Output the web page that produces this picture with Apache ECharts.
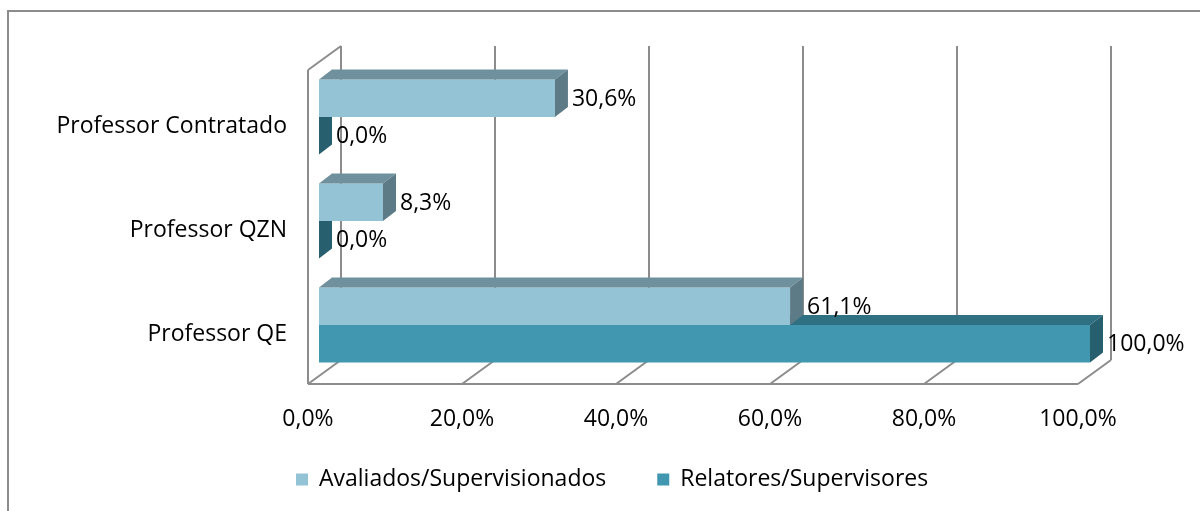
<!DOCTYPE html>
<html>
<head>
<meta charset="utf-8">
<script src="https://cdn.jsdelivr.net/npm/echarts@6/dist/echarts.min.js"></script>
<style>
  html, body { margin: 0; padding: 0; background: #fff; }
  #chart { width: 1200px; height: 511px; }
</style>
</head>
<body>
<div id="chart"></div>
<script>
let categories = ['Professor QE', 'Professor QZN', 'Professor Contratado']; // de baixo para cima
let avaliados = [61.1, 8.3, 30.6];
let relatores = [100.0, 0.0, 0.0];
let xTicks = [0, 20, 40, 60, 80, 100];
let seriesNames = ['Avaliados/Supervisionados', 'Relatores/Supervisores'];

let font = '"Open Sans", sans-serif';
let depth = [-33, 24]; // parede do fundo -> frente
let barDepth = [13, -10]; // profundidade da barra

// cores: frente, topo, lado
let lightColors = ['#93c3d5', '#6f919e', '#5d7b87'];
let darkColors = ['#4197b0', '#2f7182', '#275f6e'];

function pct(v) {
    return v.toFixed(1).replace('.', ',') + '%';
}

function barRender(upper, colors) {
    return function (params, api) {
        let v = api.value(0), c = api.value(1);
        let start = api.coord([0, c]);
        let end = api.coord([v, c]);
        let h = api.size([0, 1])[1] * 0.36;
        let y0 = upper ? start[1] - h : start[1];
        let y1 = y0 + h;
        let x0 = start[0], x1 = end[0];
        let dx = barDepth[0], dy = barDepth[1];
        let children = [];
        if (x1 > x0) {
            children.push({ type: 'rect', shape: { x: x0, y: y0, width: x1 - x0, height: h }, style: { fill: colors[0] } });
            children.push({ type: 'polygon', shape: { points: [[x0, y0], [x0 + dx, y0 + dy], [x1 + dx, y0 + dy], [x1, y0]] }, style: { fill: colors[1] } });
        }
        children.push({ type: 'polygon', shape: { points: [[x1, y0], [x1 + dx, y0 + dy], [x1 + dx, y1 + dy], [x1, y1]] }, style: { fill: colors[2] } });
        children.push({
            type: 'text',
            x: x1 + dx + 4, y: (y0 + y1) / 2 + 1,
            style: { text: pct(v), fill: '#000', font: '23px ' + font, verticalAlign: 'middle', align: 'left' }
        });
        return { type: 'group', children: children };
    };
}

function frameRender(params, api) {
    let v = api.value(0);
    let b = api.coord([v, 0]);
    let lineStyle = { stroke: '#8c8c8c', lineWidth: 2 };
    let children = [{ type: 'line', shape: { x1: b[0], y1: b[1], x2: b[0] + depth[0], y2: b[1] + depth[1] }, style: lineStyle }];
    if (params.dataIndex === 0) {
        let t = api.coord([v, 1]);
        children.push({ type: 'line', shape: { x1: t[0], y1: t[1], x2: t[0] + depth[0], y2: t[1] + depth[1] }, style: lineStyle });
        children.push({ type: 'line', shape: { x1: t[0] + depth[0], y1: t[1] + depth[1], x2: b[0] + depth[0], y2: b[1] + depth[1] }, style: lineStyle });
        let e = api.coord([xTicks[xTicks.length - 1], 0]);
        children.push({ type: 'line', shape: { x1: b[0] + depth[0], y1: b[1] + depth[1], x2: e[0] + depth[0], y2: e[1] + depth[1] }, style: lineStyle });
    }
    return { type: 'group', children: children };
}

let chart = echarts.init(document.getElementById('chart'));
let option = {
    animation: false,
    textStyle: { fontFamily: font },
    graphic: [{
        type: 'rect', shape: { x: 8, y: 11, width: 1300, height: 600 },
        style: { fill: 'none', stroke: '#8c8c8c', lineWidth: 2 }, z: -10
    }],
    legend: {
        left: 291, top: 463,
        itemWidth: 12, itemHeight: 12, itemGap: 51,
        icon: 'rect',
        data: seriesNames,
        textStyle: { fontSize: 23, color: '#000', fontFamily: font, padding: [0, 0, 0, 6] }
    },
    grid: [
        { left: 319, right: 110, top: 65, bottom: 134 },   // plano das barras
        { left: 341, right: 89, top: 46, bottom: 151 },    // parede do fundo
        { left: 308, right: 122, top: 70, bottom: 127 }    // frente do chão
    ],
    xAxis: [
        { gridIndex: 0, type: 'value', min: 0, max: 100, show: false },
        {
            gridIndex: 1, type: 'value', min: 0, max: 100, interval: 20,
            axisLine: { show: false }, axisTick: { show: false }, axisLabel: { show: false },
            splitLine: { show: true, lineStyle: { color: '#8c8c8c', width: 2 } }
        },
        {
            gridIndex: 2, type: 'value', min: 0, max: 100, interval: 20,
            axisLine: { show: false }, axisTick: { show: false }, splitLine: { show: false },
            axisLabel: { margin: 24, fontSize: 23, color: '#000', fontFamily: font, formatter: v => pct(v) }
        }
    ],
    yAxis: [
        {
            gridIndex: 0, type: 'category', data: categories,
            axisLine: { show: false }, axisTick: { show: false },
            axisLabel: {
                margin: 32, color: '#000',
                formatter: v => '{c|' + v + '}',
                rich: { c: { fontSize: 23, color: '#000', fontFamily: font, padding: [18, 0, 0, 0] } }
            }
        },
        { gridIndex: 1, type: 'value', min: 0, max: 1, show: false },
        { gridIndex: 2, type: 'value', min: 0, max: 1, show: false }
    ],
    series: [
        {
            type: 'custom', name: 'frame', xAxisIndex: 1, yAxisIndex: 1, z: 1,
            data: xTicks.map(v => [v]), renderItem: frameRender, silent: true
        },
        {
            type: 'custom', name: seriesNames[1], xAxisIndex: 0, yAxisIndex: 0, z: 3,
            itemStyle: { color: darkColors[0] },
            data: relatores.map((v, i) => [v, i]), renderItem: barRender(false, darkColors)
        },
        {
            type: 'custom', name: seriesNames[0], xAxisIndex: 0, yAxisIndex: 0, z: 4,
            itemStyle: { color: lightColors[0] },
            data: avaliados.map((v, i) => [v, i]), renderItem: barRender(true, lightColors)
        }
    ]
};
chart.setOption(option);
</script>
</body>
</html>
